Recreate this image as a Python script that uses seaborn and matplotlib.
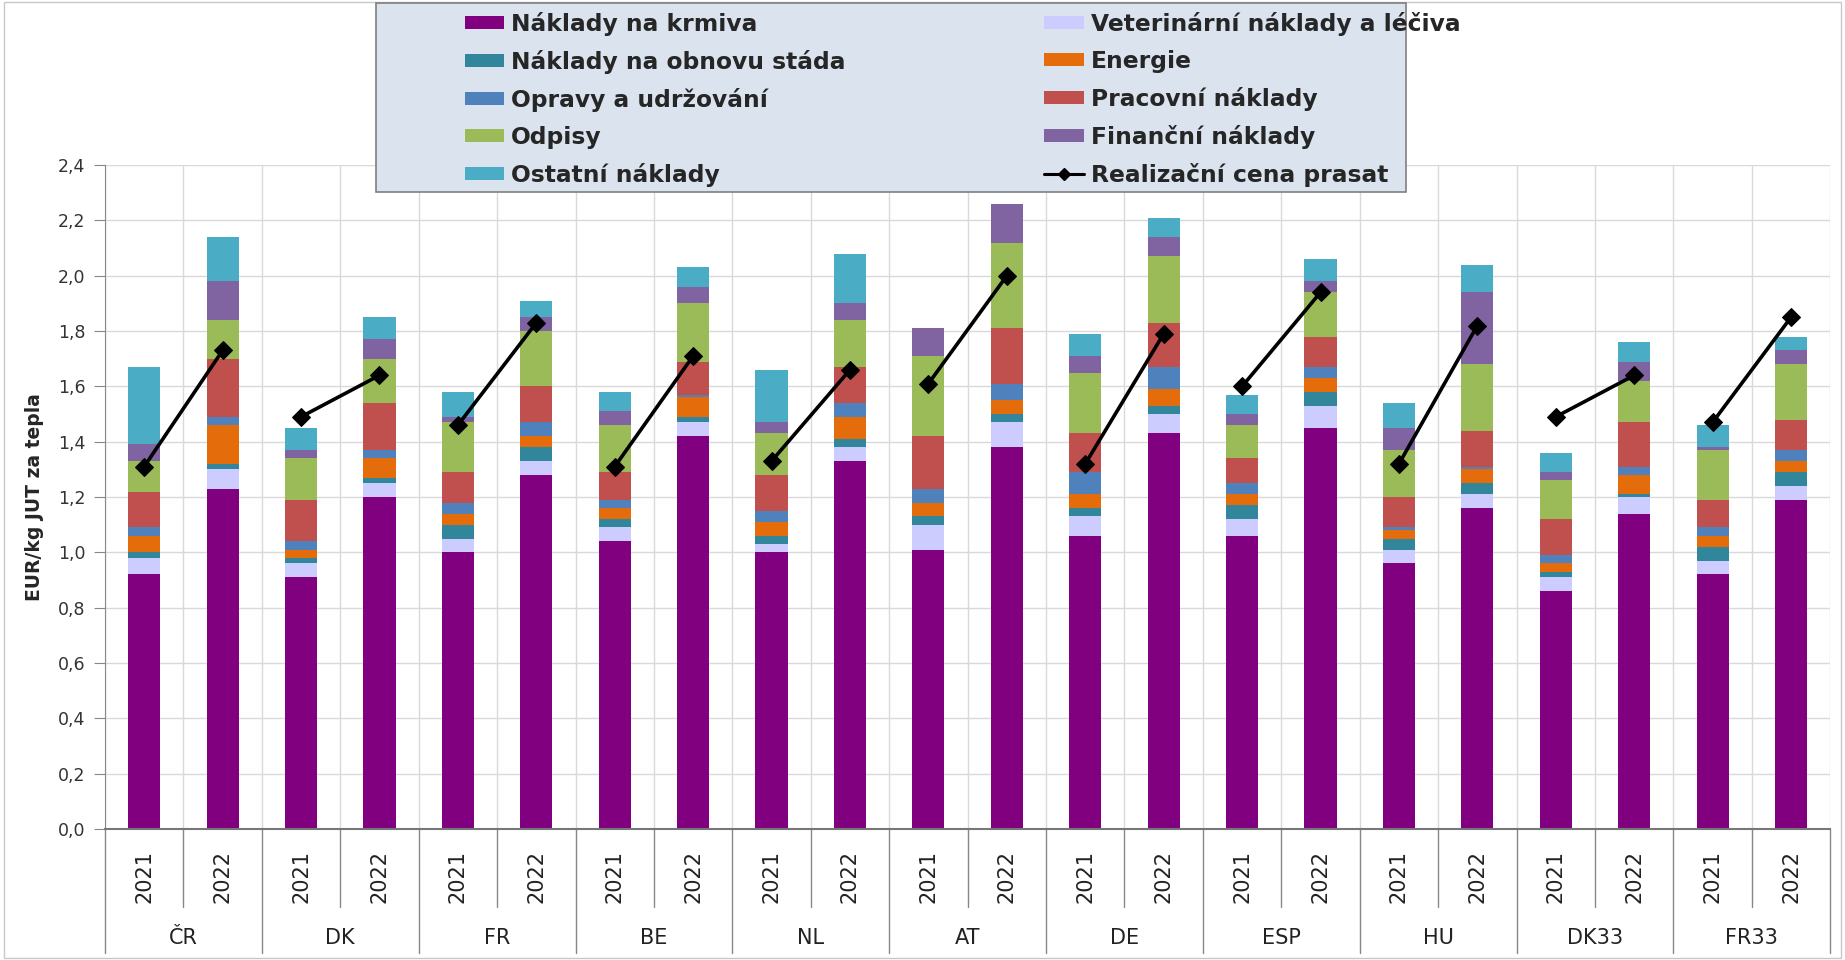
import numpy as np
import pandas as pd
import matplotlib.pyplot as plt
import matplotlib.transforms as mtransforms
from matplotlib.patches import Patch, Rectangle
from matplotlib.lines import Line2D
import seaborn as sns

sns.set_style('white')
plt.rcParams['font.family'] = ['DejaVu Sans']

# categories
countries = ['ČR', 'DK', 'FR', 'BE', 'NL', 'AT', 'DE', 'ESP', 'HU', 'DK33', 'FR33']
years = ['2021', '2022']

# cost items, EUR/kg (order: country, then year)
krmiva = [0.92, 1.23, 0.91, 1.20, 1.00, 1.28, 1.04, 1.42, 1.00, 1.33, 1.01, 1.38,
          1.06, 1.43, 1.06, 1.45, 0.96, 1.16, 0.86, 1.14, 0.92, 1.19]
veterinarni = [0.06, 0.07, 0.05, 0.05, 0.05, 0.05, 0.05, 0.05, 0.03, 0.05, 0.09, 0.09,
               0.07, 0.07, 0.06, 0.08, 0.05, 0.05, 0.05, 0.06, 0.05, 0.05]
obnova = [0.02, 0.02, 0.02, 0.02, 0.05, 0.05, 0.03, 0.02, 0.03, 0.03, 0.03, 0.03,
          0.03, 0.03, 0.05, 0.05, 0.04, 0.04, 0.02, 0.01, 0.05, 0.05]
energie = [0.06, 0.14, 0.03, 0.07, 0.04, 0.04, 0.04, 0.07, 0.05, 0.08, 0.05, 0.05,
           0.05, 0.06, 0.04, 0.05, 0.03, 0.05, 0.03, 0.07, 0.04, 0.04]
opravy = [0.03, 0.03, 0.03, 0.03, 0.04, 0.05, 0.03, 0.01, 0.04, 0.05, 0.05, 0.06,
          0.08, 0.08, 0.04, 0.04, 0.01, 0.01, 0.03, 0.03, 0.03, 0.04]
pracovni = [0.13, 0.21, 0.15, 0.17, 0.11, 0.13, 0.10, 0.12, 0.13, 0.13, 0.19, 0.20,
            0.14, 0.16, 0.09, 0.11, 0.11, 0.13, 0.13, 0.16, 0.10, 0.11]
odpisy = [0.11, 0.14, 0.15, 0.16, 0.18, 0.20, 0.17, 0.21, 0.15, 0.17, 0.29, 0.31,
          0.22, 0.24, 0.12, 0.16, 0.17, 0.24, 0.14, 0.15, 0.18, 0.20]
financni = [0.06, 0.14, 0.03, 0.07, 0.02, 0.05, 0.05, 0.06, 0.04, 0.06, 0.10, 0.14,
            0.06, 0.07, 0.04, 0.04, 0.08, 0.26, 0.03, 0.07, 0.01, 0.05]
ostatni = [0.28, 0.16, 0.08, 0.08, 0.09, 0.06, 0.07, 0.07, 0.19, 0.18, 0.00, 0.00,
           0.08, 0.07, 0.07, 0.08, 0.09, 0.10, 0.07, 0.07, 0.08, 0.05]
cena = [1.31, 1.73, 1.49, 1.64, 1.46, 1.83, 1.31, 1.71, 1.33, 1.66, 1.61, 2.00,
        1.32, 1.79, 1.60, 1.94, 1.32, 1.82, 1.49, 1.64, 1.47, 1.85]

names = ['Náklady na krmiva', 'Veterinární náklady a léčiva', 'Náklady na obnovu stáda',
         'Energie', 'Opravy a udržování', 'Pracovní náklady', 'Odpisy',
         'Finanční náklady', 'Ostatní náklady']
colors = ['#800080', '#ccccff', '#31869b', '#e46c0a', '#4f81bd', '#c0504d',
          '#9bbb59', '#8064a2', '#4bacc6']
series = [krmiva, veterinarni, obnova, energie, opravy, pracovni, odpisy, financni, ostatni]

pos = np.arange(len(countries) * len(years))
df = pd.DataFrame({'pos': pos,
                   'country': np.repeat(countries, len(years)),
                   'year': np.tile(years, len(countries)),
                   'cena': cena})
cum = np.cumsum(np.array(series), axis=0)

fig = plt.figure(figsize=(18.45, 9.6), dpi=100)
ax = fig.add_axes([0.0569, 0.1365, 0.9351, 0.6915])
ax.set_axisbelow(True)

# stacked bars: draw cumulative totals from the top layer down
for i in range(len(series) - 1, -1, -1):
    sns.barplot(x=df['pos'], y=cum[i], color=colors[i], saturation=1, width=0.41,
                errorbar=None, linewidth=0, ax=ax)

sns.lineplot(data=df, x='pos', y='cena', units='country', estimator=None, sort=False,
             color='black', marker='D', markersize=9, markeredgecolor='black',
             linewidth=2.6, legend=False, ax=ax)

ax.set_xlim(-0.5, len(pos) - 0.5)
ax.set_ylim(0, 2.4)
yt = np.arange(0, 2.41, 0.2)
ax.set_yticks(yt)
ax.set_yticklabels([f'{v:.1f}'.replace('.', ',') for v in yt], fontsize=12.5, color='#333333')
ax.tick_params(axis='y', direction='out', length=8, color='#888888', pad=6, left=True)
ax.set_xticks([])
ax.set_xlabel('')
ax.set_ylabel('EUR/kg JUT za tepla', fontsize=13.5, fontweight='bold', labelpad=10)

ax.grid(axis='y', color='#d9d9d9', linewidth=1)
for b in np.arange(-0.5, len(pos), 1.0):
    ax.axvline(b, color='#d9d9d9', linewidth=1, zorder=0)
for s in ['top', 'right']:
    ax.spines[s].set_visible(False)
ax.spines['left'].set_color('#888888')
ax.spines['bottom'].set_color('#777777')
ax.spines['bottom'].set_linewidth(1.5)

# two-level category axis
tr = mtransforms.blended_transform_factory(ax.transData, ax.transAxes)
for p, y in zip(pos, df['year']):
    ax.text(p, -0.072, y, transform=tr, rotation=90, ha='center', va='center',
            fontsize=15, color='#222222')
for k, c in enumerate(countries):
    ax.text(2 * k + 0.5, -0.164, c, transform=tr, ha='center', va='center',
            fontsize=15, color='#222222')
    ax.plot([2 * k + 0.5, 2 * k + 0.5], [0, -0.117], transform=tr, color='#888888',
            linewidth=1, clip_on=False)
for k in range(len(countries) + 1):
    ax.plot([2 * k - 0.5, 2 * k - 0.5], [0, -0.187], transform=tr, color='#888888',
            linewidth=1, clip_on=False)

# legend box
fig.patches.append(Rectangle((0.2038, 0.80), 0.5583, 0.197, transform=fig.transFigure,
                             facecolor='#dae3ee', edgecolor='#7f7f7f', linewidth=1.2,
                             zorder=5))
handles = [Patch(facecolor=c, edgecolor='none') for c in colors]
handles.append(Line2D([], [], color='black', marker='D', markersize=6, linewidth=2.2))
labels = names + ['Realizační cena prasat']
order = [0, 2, 4, 6, 8, 1, 3, 5, 7, 9]
leg = fig.legend([handles[i] for i in order], [labels[i] for i in order], ncol=2,
                 loc='upper left', bbox_to_anchor=(0.2455, 1.0),
                 bbox_transform=fig.transFigure, frameon=False,
                 prop={'weight': 'bold', 'size': 16.8}, handlelength=1.7,
                 handleheight=0.5, handletextpad=0.3, labelspacing=0.60,
                 columnspacing=8.5, borderpad=0)
leg.set_zorder(6)

fig.patches.append(Rectangle((0.002, 0.002), 0.996, 0.996, transform=fig.transFigure,
                             facecolor='none', edgecolor='#c8c8c8', linewidth=1))

fig.savefig('out.png', dpi=100, facecolor='white')
